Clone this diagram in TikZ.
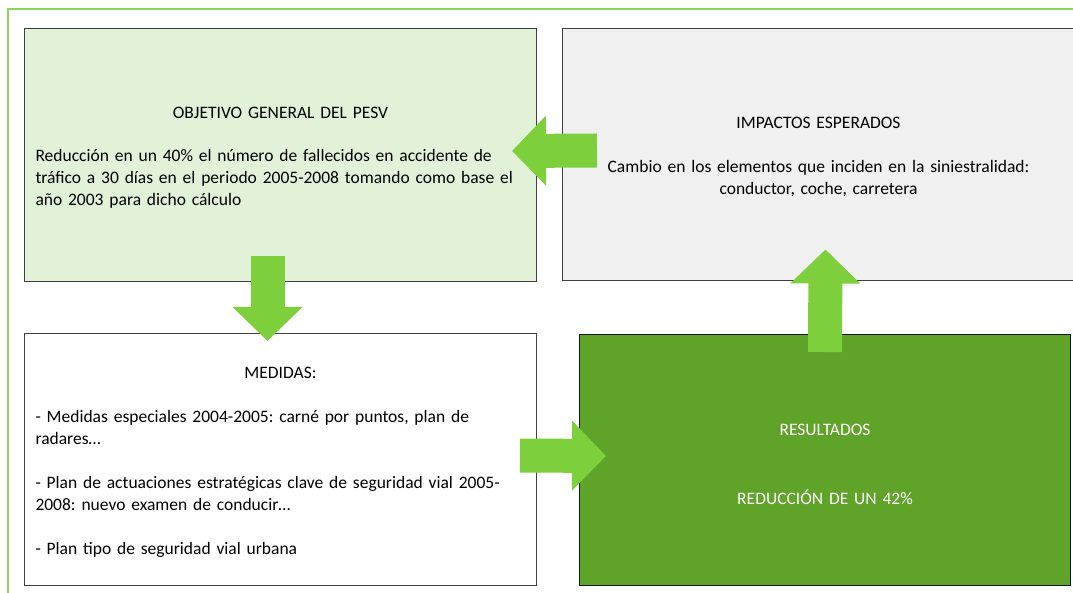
\documentclass[tikz,border=0pt]{standalone}
\usepackage{fontspec}
\setmainfont{Carlito}
\usetikzlibrary{arrows.meta}

\definecolor{framegreen}{HTML}{8CD45A}
\definecolor{arrowgreen}{HTML}{7ECF3C}
\definecolor{palegreen}{HTML}{E2F2D9}
\definecolor{palegray}{HTML}{F0F0F0}
\definecolor{darkgreen}{HTML}{60A329}

\begin{document}
\frenchspacing
\begin{tikzpicture}[x=1pt, y=-1pt,
    box/.style={draw=black!75, line width=1pt, anchor=north west,
      minimum width=512pt, minimum height=252pt, inner sep=0pt,
      text width=490pt, font=\fontsize{17.5}{22}\selectfont},
    bigarrow/.style={arrowgreen, line width=34pt,
      -{Triangle[length=34pt, width=68pt]}}]
      \clip (0, 0) rectangle (1073, 593);
      \draw[framegreen, line width=2pt] (8, 9) rectangle (1100, 620);
      \node[box, fill=palegreen, minimum height=253pt] (objetivo) at (24, 28)
        {{\centering\rule{0pt}{17.5pt}OBJETIVO GENERAL DEL PESV\par}\vspace{21pt}
         {\raggedright Reducción en un 40\% el número de fallecidos en accidente de\\
          tráfico a 30 días en el periodo 2005-2008 tomando como base el\\
          año 2003 para dicho cálculo\par}};
      \node[box, fill=palegray] (impactos) at (562, 28)
        {\centering\rule{0pt}{16.5pt}IMPACTOS ESPERADOS\\[22pt]
         Cambio en los elementos que inciden en la siniestralidad:\\
         conductor, coche, carretera\par};
      \node[box, fill=white] (medidas) at (24, 333)
        {{\centering\rule{0pt}{17.5pt}MEDIDAS:\par}\vspace{22pt}
         {\raggedright - Medidas especiales 2004-2005: carné por puntos, plan de\\
          radares…\\[22pt]
          - Plan de actuaciones estratégicas clave de seguridad vial 2005-\\
          2008: nuevo examen de conducir…\\[22pt]
          - Plan tipo de seguridad vial urbana\par}};
      \node[box, fill=darkgreen, draw=black!85!darkgreen, text=white,
        minimum width=491pt, minimum height=251pt, text width=469pt] (resultados) at (579, 334)
        {\centering\rule{0pt}{19.5pt}RESULTADOS\\[47pt] REDUCCIÓN DE UN 42\%\par};
      \draw[bigarrow] ([xshift=35pt, yshift=4pt]impactos.west) -- ([xshift=-25pt, yshift=4pt]objetivo.east);
      \draw[bigarrow] ([xshift=-13pt, yshift=26pt]objetivo.south) -- ([xshift=-13pt, yshift=-8pt]medidas.north);
      \draw[bigarrow] ([yshift=-18pt]resultados.north) -- ([xshift=7pt, yshift=31.5pt]impactos.south);
      \draw[bigarrow] ([xshift=-17pt, yshift=4pt]medidas.east) -- ([xshift=27pt, yshift=4pt]resultados.west);
    \end{tikzpicture}
\end{document}
